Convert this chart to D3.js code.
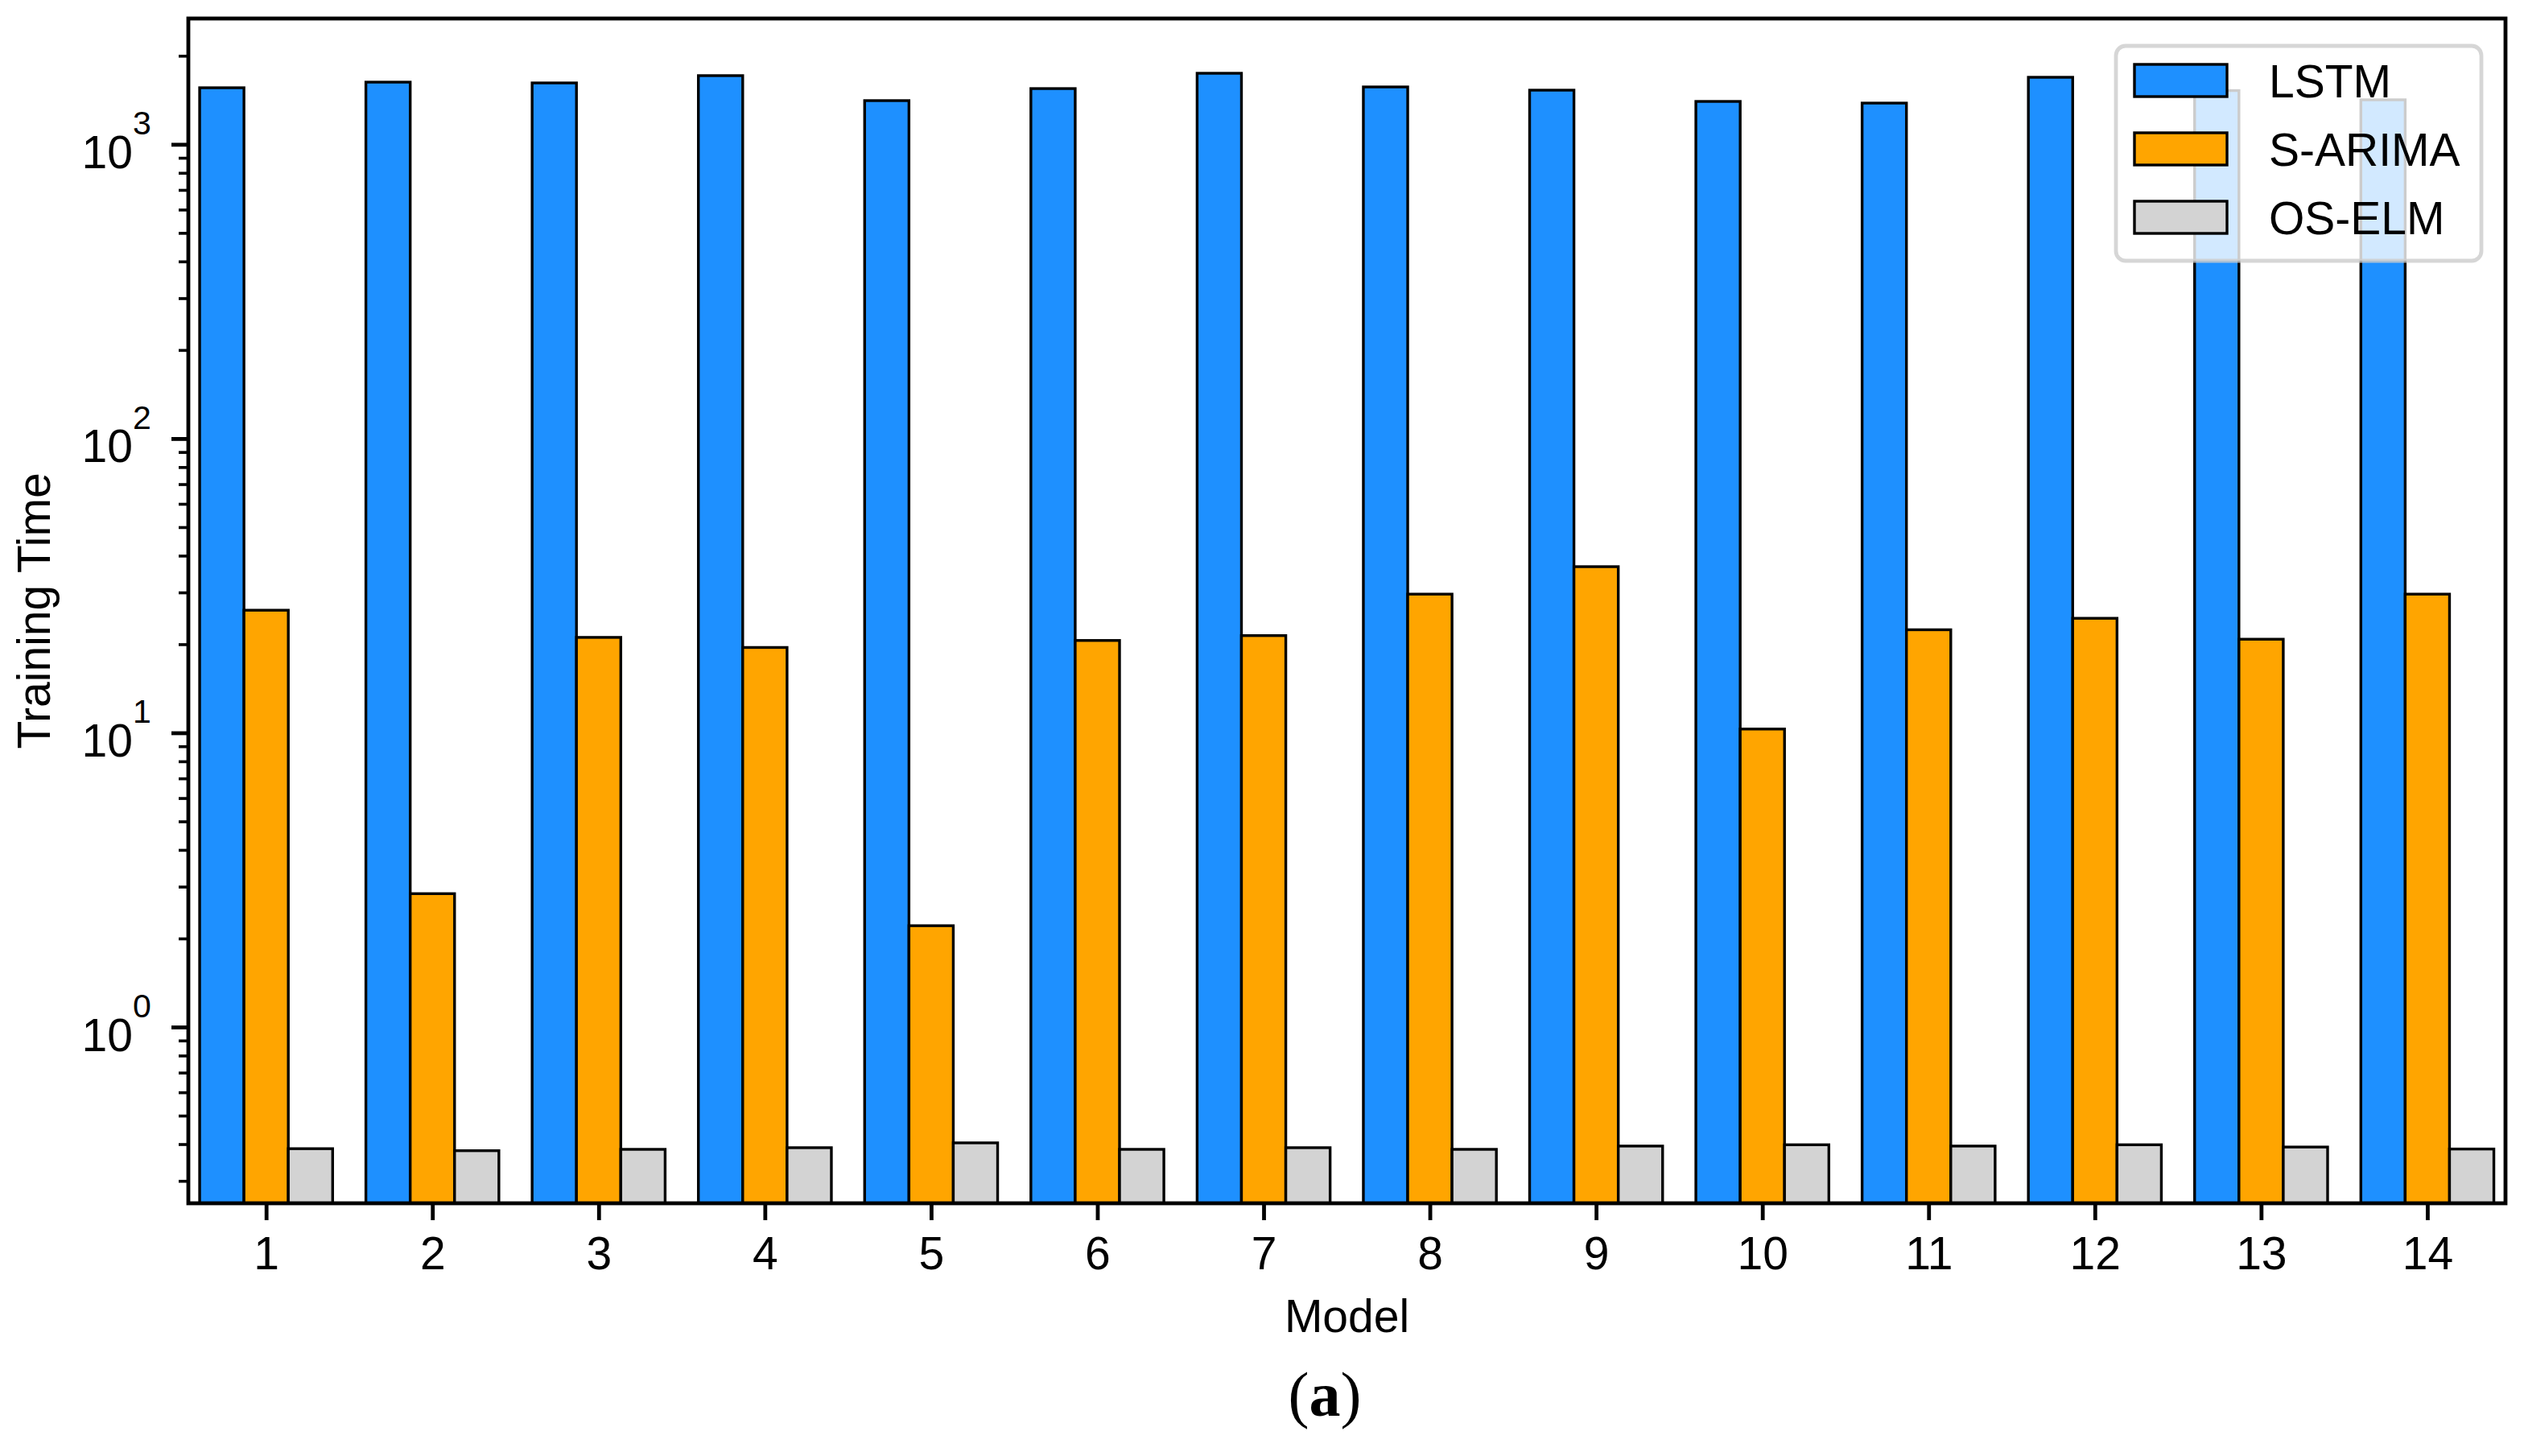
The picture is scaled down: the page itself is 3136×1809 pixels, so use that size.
<!DOCTYPE html>
<html><head><meta charset="utf-8">
<script src="https://cdn.jsdelivr.net/npm/d3@7"></script>
<style>html,body{margin:0;padding:0;background:#fff;} svg{display:block}</style>
</head><body>
<svg id="chart" width="3136" height="1809"></svg>
<script>
// ---- data ----
const categories = [1, 2, 3, 4, 5, 6, 7, 8, 9, 10, 11, 12, 13, 14];
const seriesNames = ["LSTM", "S-ARIMA", "OS-ELM"];
const lstm   = [1557, 1627, 1617, 1712, 1408, 1547, 1744, 1567, 1528, 1399, 1381, 1690, 1523, 1417];
const sarima = [26.1, 2.84, 21.1, 19.5, 2.21, 20.6, 21.4, 29.6, 36.7, 10.3, 22.4, 24.5, 20.8, 29.6];
const oselm  = [0.386, 0.380, 0.384, 0.389, 0.404, 0.384, 0.389, 0.384, 0.394, 0.398, 0.394, 0.398, 0.391, 0.385];
const yMajorTicks = [1, 10, 100, 1000];
const yTickExponents = ["0", "1", "2", "3"];
const colors = ["#1e90ff", "#ffa500", "#d3d3d3"];

// ---- layout ----
const W = 3136, H = 1809;
const plot = {left: 234, right: 3113, top: 23, bottom: 1495};
const FONT = "'Liberation Sans', Arial, Helvetica, sans-serif";
const FS = 57;

const svg = d3.select("#chart");
svg.append("rect").attr("width", W).attr("height", H).attr("fill", "#fff");

const x = d3.scaleLinear().domain([0.532, 14.47]).range([plot.left, plot.right]);
const y = d3.scaleLog().domain([0.2518, 2677]).range([plot.bottom, plot.top]);
const barW = (x(1) - x(0)) * 0.8 / 3;

// ---- bars ----
const series = [lstm, sarima, oselm];
const gb = svg.append("g");
series.forEach((vals, si) => {
  gb.selectAll(null).data(categories).join("rect")
    .attr("x", (c) => x(c) + (si - 1.5) * barW)
    .attr("y", (c, i) => y(vals[i]))
    .attr("width", barW)
    .attr("height", (c, i) => plot.bottom - y(vals[i]))
    .attr("fill", colors[si])
    .attr("stroke", "#000")
    .attr("stroke-width", 3.4);
});

// ---- x axis ----
const gx = svg.append("g").attr("transform", `translate(0,${plot.bottom})`)
  .call(d3.axisBottom(x).tickValues(categories).tickSize(21).tickPadding(21).tickFormat(d3.format("d")));
gx.select(".domain").remove();
gx.selectAll(".tick line").attr("stroke", "#000").attr("stroke-width", 4.8);
gx.selectAll(".tick text").attr("font-size", FS).attr("font-family", FONT).attr("fill", "#000");

// ---- y axis (minor) ----
const minorTicks = [];
for (let e = -1; e <= 3; e++) for (let m = 2; m <= 9; m++) {
  const v = m * Math.pow(10, e);
  if (v >= y.domain()[0] && v <= y.domain()[1]) minorTicks.push(v);
}
const gyMinor = svg.append("g").attr("transform", `translate(${plot.left},0)`)
  .call(d3.axisLeft(y).tickValues(minorTicks).tickSize(12).tickFormat(""));
gyMinor.select(".domain").remove();
gyMinor.selectAll(".tick line").attr("stroke", "#000").attr("stroke-width", 3.6);

// ---- y axis (major) ----
const gy = svg.append("g").attr("transform", `translate(${plot.left},0)`)
  .call(d3.axisLeft(y).tickValues(yMajorTicks).tickSize(21).tickFormat(""));
gy.select(".domain").remove();
gy.selectAll(".tick line").attr("stroke", "#000").attr("stroke-width", 4.8);
gy.selectAll(".tick text").remove();
gy.selectAll(".tick").each(function(d, i) {
  const t = d3.select(this);
  t.append("text").attr("x", 165 - plot.left).attr("y", 29)
    .attr("text-anchor", "end").attr("font-family", FONT).attr("font-size", FS).attr("fill", "#000")
    .text("10");
  t.append("text").attr("x", 165 - plot.left).attr("y", -12.6)
    .attr("text-anchor", "start").attr("font-family", FONT).attr("font-size", 41).attr("fill", "#000")
    .text(yTickExponents[yMajorTicks.indexOf(d)]);
});

// ---- spines ----
svg.append("rect").attr("x", plot.left).attr("y", plot.top)
  .attr("width", plot.right - plot.left).attr("height", plot.bottom - plot.top)
  .attr("fill", "none").attr("stroke", "#000").attr("stroke-width", 4.8);

// ---- axis titles ----
svg.append("text").attr("x", (plot.left + plot.right) / 2).attr("y", 1655)
  .attr("text-anchor", "middle").attr("font-family", FONT).attr("font-size", FS).attr("fill", "#000")
  .text("Model");
svg.append("text").attr("transform", `translate(62,${(plot.top + plot.bottom) / 2}) rotate(-90)`)
  .attr("text-anchor", "middle").attr("font-family", FONT).attr("font-size", FS).attr("fill", "#000")
  .text("Training Time");

// ---- caption ----
const cap = svg.append("text").attr("x", 1646).attr("y", 1759).attr("text-anchor", "middle")
  .attr("font-family", "'Liberation Serif', 'Times New Roman', serif").attr("font-size", 78).attr("fill", "#000");
cap.append("tspan").text("(");
cap.append("tspan").attr("font-weight", "bold").text("a");
cap.append("tspan").text(")");

// ---- legend ----
const leg = svg.append("g");
leg.append("rect").attr("x", 2629).attr("y", 57).attr("width", 454).attr("height", 267).attr("rx", 12)
  .attr("fill", "#fff").attr("fill-opacity", 0.8)
  .attr("stroke", "#cccccc").attr("stroke-opacity", 0.8).attr("stroke-width", 4.8);
seriesNames.forEach((n, i) => {
  leg.append("rect").attr("x", 2652).attr("y", 80 + 85 * i).attr("width", 115).attr("height", 40)
    .attr("fill", colors[i]).attr("stroke", "#000").attr("stroke-width", 3.4);
  leg.append("text").attr("x", 2819).attr("y", 121 + 85 * i)
    .attr("font-family", FONT).attr("font-size", FS).attr("fill", "#000").text(n);
});
</script>
</body></html>
